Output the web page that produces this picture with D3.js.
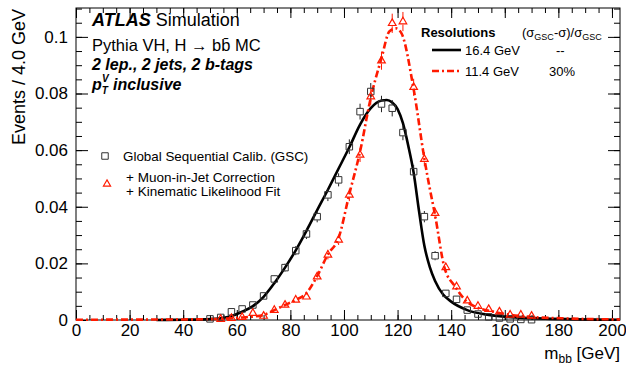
<!DOCTYPE html>
<html>
<head>
<meta charset="utf-8">
<script src="https://cdn.jsdelivr.net/npm/d3@7"></script>
<style>
  body { margin: 0; background: #fff; }
  svg text { font-family: "Liberation Sans", Arial, sans-serif; }
</style>
</head>
<body>
<div id="chart"></div>
<script>
// bin centres (4 GeV bins) and normalised contents, GSC
const gscMass = [50, 54, 58, 62, 66, 70, 74, 78, 82, 86, 90, 94, 98, 102, 106, 110,
  114, 118, 122, 126, 130, 134, 138, 142, 146, 150, 154, 158, 162, 166, 170];
const gscVals = [0.0004, 0.0009, 0.0029, 0.0039, 0.0053, 0.0085, 0.0145, 0.0185,
  0.0245, 0.0304, 0.0365, 0.0442, 0.0495, 0.0612, 0.0736, 0.0807, 0.0763, 0.0748,
  0.0662, 0.0524, 0.0365, 0.0227, 0.0094, 0.0073, 0.0035, 0.0021, 0.0011, 0.0007,
  0.0004, 0.0002, 0.0001];
const gscErrs = [0.0002, 0.0003, 0.0006, 0.0007, 0.0008, 0.001, 0.0013, 0.0014,
  0.0016, 0.0018, 0.002, 0.0022, 0.0023, 0.0026, 0.0028, 0.003, 0.0029, 0.0029,
  0.0027, 0.0024, 0.002, 0.0016, 0.001, 0.0009, 0.0006, 0.0005, 0.0003, 0.0003,
  0.0002, 0.0001, 0.0001];

// muon-in-jet + KLFit
const klMass = [54, 58, 62, 66, 70, 74, 78, 82, 86, 90, 94, 98, 102, 106, 110, 114,
  118, 122, 126, 130, 134, 138, 142, 146, 150, 154, 158, 162, 166, 170];
const klVals = [0.0003, 0.0006, 0.001, 0.0024, 0.0014, 0.0035, 0.0053, 0.0071,
  0.0082, 0.0153, 0.023, 0.0283, 0.0442, 0.0583, 0.0789, 0.0916, 0.1048, 0.1054,
  0.0822, 0.0568, 0.0377, 0.0186, 0.0118, 0.0068, 0.0049, 0.0038, 0.0029, 0.0018,
  0.0018, 0.0014];
const klErrs = [0.0002, 0.0003, 0.0003, 0.0005, 0.0004, 0.0006, 0.0008, 0.0009,
  0.001, 0.0013, 0.0016, 0.0018, 0.0022, 0.0025, 0.0029, 0.0032, 0.0034, 0.0034,
  0.003, 0.0025, 0.002, 0.0014, 0.0011, 0.0009, 0.0007, 0.0006, 0.0006, 0.0004,
  0.0004, 0.0004];

// fitted curves
const gscFitMass = [30, 40, 50, 54, 58, 62, 66, 70, 74, 78, 82, 86, 90, 94, 98, 102,
  106, 110, 114, 116, 118, 120, 122, 124, 126, 128, 130, 132, 134, 137, 140, 146,
  154, 162, 175, 203];
const gscFitVals = [0, 0.0001, 0.0003, 0.0006, 0.0014, 0.0029, 0.0049, 0.0082,
  0.013, 0.0185, 0.0246, 0.0315, 0.0388, 0.046, 0.0535, 0.061, 0.069, 0.0748, 0.0775,
  0.0777, 0.0768, 0.0745, 0.0695, 0.0615, 0.052, 0.0385, 0.0262, 0.0188, 0.0138,
  0.009, 0.0065, 0.0035, 0.0018, 0.001, 0.0005, 0.0001];
const klFitMass = [0, 40, 50, 58, 62, 66, 70, 74, 78, 82, 86, 90, 94, 98, 102, 106,
  110, 114, 117, 119.5, 121.5, 126, 130, 131.5, 134, 137.5, 141.5, 145.5, 149, 156,
  168, 181, 203];
const klFitVals = [0.0001, 0.0002, 0.0003, 0.0006, 0.0009, 0.0012, 0.0018, 0.0035,
  0.0053, 0.0071, 0.0095, 0.0155, 0.0232, 0.029, 0.0445, 0.0595, 0.0785, 0.0925,
  0.102, 0.103, 0.1012, 0.0815, 0.057, 0.049, 0.037, 0.0185, 0.0118, 0.0068, 0.0047,
  0.0029, 0.0012, 0.0006, 0.0002];

const xTicks = [0, 20, 40, 60, 80, 100, 120, 140, 160, 180, 200];
const yTicks = [0, 0.02, 0.04, 0.06, 0.08, 0.1];

const W = 626, H = 368;
const frame = { left: 76, right: 620, top: 8, bottom: 320 };
const xMax = 203, yMax = 0.1102;

const svg = d3.select("#chart").append("svg")
  .attr("width", W).attr("height", H);

const x = d3.scaleLinear().domain([0, xMax]).range([frame.left, frame.right]);
const y = d3.scaleLinear().domain([0, yMax]).range([frame.bottom, frame.top]);

// axes, ROOT style: ticks pointing inward on all four sides
function styleAxis(g) {
  g.select(".domain").remove();
  g.selectAll(".tick line").attr("stroke", "#000").attr("stroke-width", 1);
}
const xMinor = d3.range(0, 201, 5);
const yMinor = d3.range(0, 0.1101, 0.005);

svg.append("g").attr("transform", `translate(0,${frame.bottom})`)
  .call(d3.axisBottom(x).tickValues(xMinor).tickSize(-5).tickFormat(""))
  .call(styleAxis);
svg.append("g").attr("transform", `translate(0,${frame.bottom})`)
  .call(d3.axisBottom(x).tickValues(xTicks).tickSize(-10).tickPadding(4))
  .call(styleAxis)
  .selectAll("text").attr("font-size", 17).attr("fill", "#000");
svg.append("g").attr("transform", `translate(0,${frame.top})`)
  .call(d3.axisTop(x).tickValues(xMinor).tickSize(-5).tickFormat(""))
  .call(styleAxis);
svg.append("g").attr("transform", `translate(0,${frame.top})`)
  .call(d3.axisTop(x).tickValues(xTicks).tickSize(-10).tickFormat(""))
  .call(styleAxis);

svg.append("g").attr("transform", `translate(${frame.left},0)`)
  .call(d3.axisLeft(y).tickValues(yMinor).tickSize(-6).tickFormat(""))
  .call(styleAxis);
svg.append("g").attr("transform", `translate(${frame.left},0)`)
  .call(d3.axisLeft(y).tickValues(yTicks).tickSize(-12).tickPadding(8)
    .tickFormat((d) => (d === 0 ? "0" : String(+d.toFixed(2)))))
  .call(styleAxis)
  .selectAll("text").attr("font-size", 17).attr("fill", "#000");
svg.append("g").attr("transform", `translate(${frame.right},0)`)
  .call(d3.axisRight(y).tickValues(yMinor).tickSize(-6).tickFormat(""))
  .call(styleAxis);
svg.append("g").attr("transform", `translate(${frame.right},0)`)
  .call(d3.axisRight(y).tickValues(yTicks).tickSize(-12).tickFormat(""))
  .call(styleAxis);

svg.append("rect")
  .attr("x", frame.left).attr("y", frame.top)
  .attr("width", frame.right - frame.left).attr("height", frame.bottom - frame.top)
  .attr("fill", "none").attr("stroke", "#000").attr("stroke-width", 1);

// axis titles
svg.append("text")
  .attr("transform", `translate(25,${frame.top + 1}) rotate(-90)`)
  .attr("text-anchor", "end").attr("font-size", 18)
  .text("Events / 4.0 GeV");
const xt = svg.append("text")
  .attr("x", frame.right).attr("y", 359)
  .attr("text-anchor", "end").attr("font-size", 17);
xt.append("tspan").text("m");
xt.append("tspan").attr("font-size", 12).attr("dy", 4).text("bb");
xt.append("tspan").attr("dy", -4).text(" [GeV]");

// curves
const line = d3.line()
  .x((d) => x(d[0])).y((d) => y(d[1]))
  .curve(d3.curveMonotoneX);

const klFit = klFitMass.map((m, i) => [m, klFitVals[i]]);
const gscFit = gscFitMass.map((m, i) => [m, gscFitVals[i]]);

svg.append("path").datum(gscFit)
  .attr("d", line).attr("fill", "none")
  .attr("stroke", "#000").attr("stroke-width", 2.6);

svg.append("path").datum(klFit)
  .attr("d", line).attr("fill", "none")
  .attr("stroke", "#ff1a00").attr("stroke-width", 2.6)
  .attr("stroke-dasharray", "7,3,2,3");

// points with error bars
function errBars(mass, vals, errs, color, gap) {
  const g = svg.append("g").attr("stroke", color).attr("stroke-width", 1);
  mass.forEach((m, i) => {
    const cy = y(vals[i]);
    const top = y(vals[i] + errs[i]);
    const bot = Math.min(y(vals[i] - errs[i]), frame.bottom);
    if (cy - gap > top) {
      g.append("line").attr("x1", x(m)).attr("x2", x(m))
        .attr("y1", top).attr("y2", cy - gap);
    }
    if (bot > cy + gap) {
      g.append("line").attr("x1", x(m)).attr("x2", x(m))
        .attr("y1", cy + gap).attr("y2", bot);
    }
  });
}

errBars(gscMass, gscVals, gscErrs, "#222", 3.5);
errBars(klMass, klVals, klErrs, "#ff1a00", 3);

const square = d3.symbol().type(d3.symbolSquare).size(42);
const tri = d3.symbol().type(d3.symbolTriangle).size(25);

svg.append("g").selectAll("path")
  .data(gscMass.map((m, i) => [m, gscVals[i]]))
  .join("path")
  .attr("d", square)
  .attr("transform", (d) => `translate(${x(d[0])},${y(d[1])})`)
  .attr("fill", "none").attr("stroke", "#333").attr("stroke-width", 1);

svg.append("g").selectAll("path")
  .data(klMass.map((m, i) => [m, klVals[i]]))
  .join("path")
  .attr("d", tri)
  .attr("transform", (d) => `translate(${x(d[0])},${y(d[1])})`)
  .attr("fill", "none").attr("stroke", "#ff1a00").attr("stroke-width", 1.2);

// labels top left
const t1 = svg.append("text").attr("x", 92).attr("y", 26).attr("font-size", 18);
t1.append("tspan").attr("font-weight", "bold").attr("font-style", "italic").text("ATLAS");
t1.append("tspan").text(" Simulation");
svg.append("text").attr("x", 92).attr("y", 51).attr("font-size", 16.5)
  .text("Pythia VH, H \u2192 bb\u0304 MC");
svg.append("text").attr("x", 92).attr("y", 70).attr("font-size", 16)
  .attr("font-weight", "bold").attr("font-style", "italic")
  .text("2 lep., 2 jets, 2 b-tags");
const t4 = svg.append("text").attr("x", 92).attr("y", 90).attr("font-size", 16)
  .attr("font-weight", "bold").attr("font-style", "italic");
t4.append("tspan").text("p");
t4.append("tspan").attr("font-size", 10).attr("dy", 4).text("T");
t4.append("tspan").attr("font-size", 10).attr("dx", -6).attr("dy", -12).text("V");
t4.append("tspan").attr("dy", 8).text(" inclusive");

// left legend
svg.append("path").attr("d", square)
  .attr("transform", "translate(105,156)")
  .attr("fill", "none").attr("stroke", "#333");
svg.append("text").attr("x", 123).attr("y", 161).attr("font-size", 13.4)
  .text("Global Sequential Calib. (GSC)");
svg.append("path").attr("d", d3.symbol().type(d3.symbolTriangle).size(22))
  .attr("transform", "translate(107,184)")
  .attr("fill", "none").attr("stroke", "#ff1a00").attr("stroke-width", 1.2);
svg.append("text").attr("x", 126).attr("y", 182).attr("font-size", 13.5)
  .text("+ Muon-in-Jet Correction");
svg.append("text").attr("x", 126).attr("y", 196).attr("font-size", 13.5)
  .text("+ Kinematic Likelihood Fit");

// right legend
svg.append("text").attr("x", 421).attr("y", 37).attr("font-size", 13)
  .attr("font-weight", "bold").text("Resolutions");
const sh = svg.append("text").attr("x", 522).attr("y", 37).attr("font-size", 13);
sh.append("tspan").text("(\u03c3");
sh.append("tspan").attr("font-size", 9).attr("dy", 3).text("GSC");
sh.append("tspan").attr("dy", -3).text("-\u03c3)/\u03c3");
sh.append("tspan").attr("font-size", 9).attr("dy", 3).text("GSC");

svg.append("line").attr("x1", 432).attr("x2", 461).attr("y1", 50).attr("y2", 50)
  .attr("stroke", "#000").attr("stroke-width", 2.6);
svg.append("text").attr("x", 465).attr("y", 55).attr("font-size", 13).text("16.4 GeV");
svg.append("text").attr("x", 556).attr("y", 55).attr("font-size", 13).text("--");
svg.append("line").attr("x1", 432).attr("x2", 461).attr("y1", 71).attr("y2", 71)
  .attr("stroke", "#ff1a00").attr("stroke-width", 2.6)
  .attr("stroke-dasharray", "7,3,2,3");
svg.append("text").attr("x", 465).attr("y", 76).attr("font-size", 13).text("11.4 GeV");
svg.append("text").attr("x", 549).attr("y", 76).attr("font-size", 13).text("30%");
</script>
</body>
</html>
